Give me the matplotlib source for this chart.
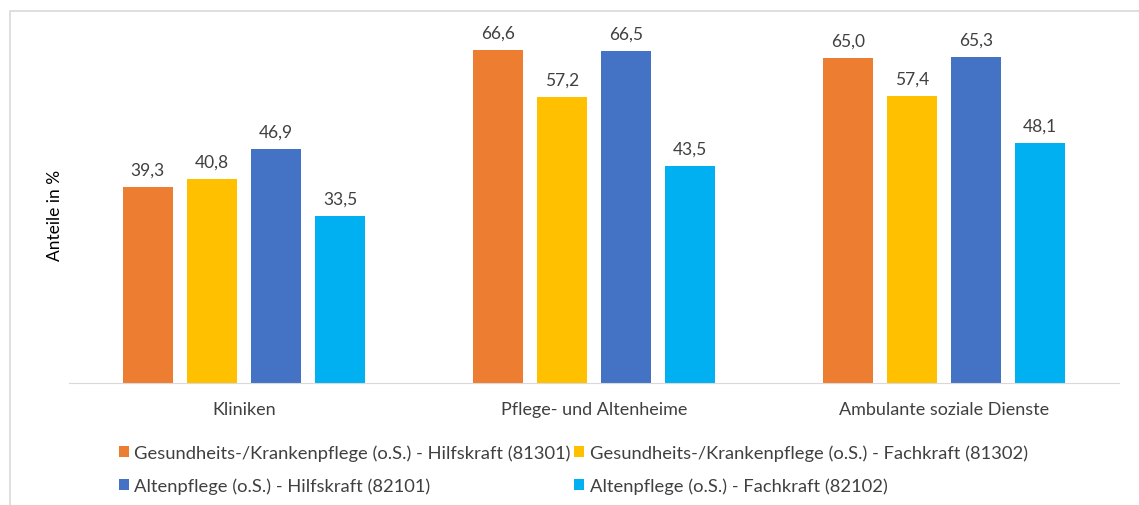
import matplotlib
matplotlib.use("Agg")
import matplotlib.pyplot as plt
import numpy as np
from matplotlib.patches import Rectangle

# Data
categories = ["Kliniken", "Pflege- und Altenheime", "Ambulante soziale Dienste"]
series_names = [
    "Gesundheits-/Krankenpflege (o.S.) - Hilfskraft (81301)",
    "Gesundheits-/Krankenpflege (o.S.) - Fachkraft (81302)",
    "Altenpflege (o.S.) - Hilfskraft (82101)",
    "Altenpflege (o.S.) - Fachkraft (82102)",
]
hilfs_gk = [39.3, 66.6, 65.0]
fach_gk = [40.8, 57.2, 57.4]
hilfs_ap = [46.9, 66.5, 65.3]
fach_ap = [33.5, 43.5, 48.1]
colors = ["#ED7D31", "#FFC000", "#4472C4", "#00B0F0"]

plt.rcParams["font.family"] = ["Lato", "DejaVu Sans"]

W, H = 1139, 506
fig = plt.figure(figsize=(W / 100, H / 100), dpi=100)

# outer chart frame (top cut off in the reference)
fig.add_artist(Rectangle((10 / W, -0.05), 1.2, (H - 12) / H + 0.05,
                         transform=fig.transFigure, fill=False,
                         edgecolor="#D9D9D9", linewidth=1.2))

ax = fig.add_axes([69 / W, 1 - 384 / H, (1119 - 69) / W, (384 - 12) / H])

x = np.arange(len(categories))
step = 0.183
width = 0.143
all_series = [hilfs_gk, fach_gk, hilfs_ap, fach_ap]
for i, (vals, name, col) in enumerate(zip(all_series, series_names, colors)):
    pos = x + (i - 1.5) * step
    ax.bar(pos, vals, width=width, color=col, label=name)
    for px, v in zip(pos, vals):
        ax.text(px, v + 1.8, f"{v:.1f}".replace(".", ","), ha="center",
                va="bottom", fontsize=12.5, color="#404040")

ax.set_xlim(-0.5, 2.5)
ax.set_ylim(0, 74.4)
ax.set_yticks([])
ax.set_xticks(x)
ax.set_xticklabels(categories, fontsize=13, color="#404040")
ax.tick_params(axis="x", length=0, pad=13)
for s in ["top", "right", "left"]:
    ax.spines[s].set_visible(False)
ax.spines["bottom"].set_color("#D9D9D9")

fig.text(55 / W, 1 - 215 / H, "Anteile in %", rotation=90, ha="center",
         va="center", fontsize=12.5, color="#000000")

# legend fills row by row in the reference
handles, labels = ax.get_legend_handles_labels()
order = [0, 2, 1, 3]
leg = fig.legend([handles[i] for i in order], [labels[i] for i in order],
                 ncol=2, loc="center left",
                 bbox_to_anchor=(102 / W, 1 - 470 / H), frameon=False,
                 fontsize=13.2, handlelength=0.55, handleheight=0.55,
                 handletextpad=0.3, columnspacing=0.2, labelspacing=0.9,
                 labelcolor="#404040")

fig.savefig("out.png", dpi=100)
